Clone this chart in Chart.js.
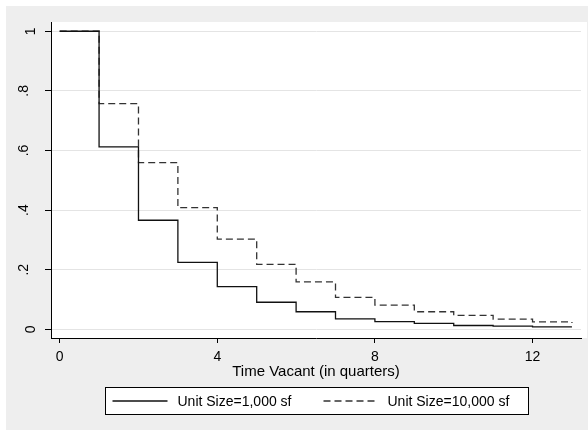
<!DOCTYPE html>
<html lang="en">
<head>
  <meta charset="UTF-8">
  <title>Time Vacant survival</title>
  <script src="https://cdn.jsdelivr.net/npm/chart.js"></script>
  <style>
    body { margin: 0; background: #fff; }
    .frame { position: absolute; left: 6px; top: 6px; width: 582px; height: 424px; background: #eeeeee; }
  </style>
</head>
<body>
<div class="frame">
  <canvas id="surv" width="582" height="424"></canvas>
</div>

<script>
  // Data
  const quarters = [0, 1, 2, 3, 4, 5, 6, 7, 8, 9, 10, 11, 12, 13];
  const unit1000 = [1, 0.612, 0.366, 0.225, 0.143, 0.091, 0.059, 0.035, 0.026, 0.020, 0.013, 0.011, 0.008, 0.008];
  const unit10000 = [1, 0.757, 0.559, 0.408, 0.303, 0.218, 0.159, 0.107, 0.081, 0.059, 0.047, 0.034, 0.025, 0.021];
  const seriesNames = ["Unit Size=1,000 sf", "Unit Size=10,000 sf"];
  const xTicks = [0, 4, 8, 12];
  const yTicks = [0, 0.2, 0.4, 0.6, 0.8, 1];
  const yTickLabels = ["0", ".2", ".4", ".6", ".8", "1"];

  const FONT = "'Liberation Sans', Arial, sans-serif";

  function toPoints(ys) {
    return quarters.map((q, i) => ({ x: q, y: ys[i] }));
  }

  // white plot region
  const plotBg = {
    id: "plotBg",
    beforeDraw(chart) {
      const a = chart.chartArea;
      const ctx = chart.ctx;
      ctx.save();
      ctx.fillStyle = "#fff";
      ctx.fillRect(a.left, a.top, a.right - a.left + 6, a.bottom - a.top);
      ctx.restore();
    }
  };

  // rotated y tick labels (the stata ones with a leading dot sit further out)
  const yLabels = {
    id: "yLabels",
    afterDraw(chart) {
      const ctx = chart.ctx;
      const y = chart.scales.y;
      ctx.save();
      ctx.fillStyle = "#000";
      ctx.font = "14px " + FONT;
      ctx.textAlign = "center";
      ctx.textBaseline = "middle";
      yTicks.forEach((v, i) => {
        const lbl = yTickLabels[i];
        const off = lbl.startsWith(".") ? 27 : 20;
        ctx.save();
        ctx.translate(chart.chartArea.left - off, y.getPixelForValue(v));
        ctx.rotate(-Math.PI / 2);
        ctx.fillText(lbl, 0, 0);
        ctx.restore();
      });
      ctx.restore();
    }
  };

  // boxed legend under the axis title
  const boxLegend = {
    id: "boxLegend",
    afterDraw(chart) {
      const ctx = chart.ctx;
      const a = chart.chartArea;
      const w = 423, h = 27;
      const left = Math.round((a.left + a.right) / 2 - w / 2) + 0.5;
      const top = 381.5;
      const mid = top + h / 2;
      ctx.save();
      ctx.fillStyle = "#fff";
      ctx.fillRect(left, top, w, h);
      ctx.strokeStyle = "#000";
      ctx.lineWidth = 1;
      ctx.strokeRect(left, top, w, h);

      const items = [{ sx: 7, tx: 72 }, { sx: 218, tx: 282 }];
      chart.data.datasets.forEach((ds, i) => {
        const it = items[i];
        ctx.save();
        ctx.strokeStyle = ds.borderColor;
        ctx.lineWidth = ds.borderWidth;
        ctx.setLineDash(ds.borderDash || []);
        ctx.beginPath();
        ctx.moveTo(left + it.sx, Math.round(mid));
        ctx.lineTo(left + it.sx + 55, Math.round(mid));
        ctx.stroke();
        ctx.restore();
        ctx.fillStyle = "#000";
        ctx.font = "14px " + FONT;
        ctx.textAlign = "left";
        ctx.textBaseline = "middle";
        ctx.fillText(ds.label, left + it.tx, mid + 1);
      });
      ctx.restore();
    }
  };

  new Chart(document.getElementById("surv"), {
    type: "line",
    data: {
      datasets: [
        {
          label: seriesNames[0],
          data: toPoints(unit1000),
          borderColor: "#111",
          borderWidth: 1.3,
          stepped: true,
          pointRadius: 0,
          fill: false
        },
        {
          label: seriesNames[1],
          data: toPoints(unit10000),
          borderColor: "#333",
          borderWidth: 1.3,
          borderDash: [7, 4],
          stepped: true,
          pointRadius: 0,
          fill: false
        }
      ]
    },
    options: {
      responsive: false,
      animation: false,
      devicePixelRatio: 1,
      layout: { padding: { left: 0, top: 16, right: 7, bottom: 49 } },
      plugins: {
        legend: { display: false },
        tooltip: { enabled: false }
      },
      scales: {
        x: {
          type: "linear",
          min: -0.22,
          max: 13.23,
          afterBuildTicks: s => { s.ticks = xTicks.map(v => ({ value: v })); },
          afterFit: s => { s.height = 43; },
          grid: { drawOnChartArea: false, tickLength: 5, tickColor: "#000" },
          border: { color: "#000", width: 1 },
          ticks: { color: "#000", font: { family: FONT, size: 14 }, padding: 6, maxRotation: 0 },
          title: {
            display: true,
            text: "Time Vacant (in quarters)",
            color: "#000",
            font: { family: FONT, size: 15 },
            padding: 0
          }
        },
        y: {
          min: -0.029,
          max: 1.031,
          afterBuildTicks: s => { s.ticks = yTicks.map(v => ({ value: v })); },
          afterFit: s => { s.width = 45; },
          grid: { color: "#e4e4e4", lineWidth: 1, tickLength: 6, tickColor: "#000" },
          border: { color: "#000", width: 1 },
          ticks: { display: false }
        }
      }
    },
    plugins: [plotBg, yLabels, boxLegend]
  });
</script>
</body>
</html>
